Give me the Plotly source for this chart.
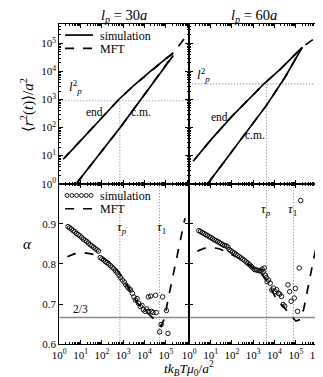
import numpy as np
import plotly.graph_objects as go
from plotly.subplots import make_subplots

# ---- top panels: mean square displacement (log10 t, log10 <r^2>/a^2) ----
end30_logt = [0.25, 1.0, 2.0, 2.79, 3.5, 4.3, 5.0, 5.35]
end30_logr = [0.92, 1.55, 2.35, 3.0, 3.5, 4.02, 4.45, 4.67]
cm30_logt = [0.83, 2.0, 2.86, 4.0, 5.35]
cm30_logr = [0.03, 1.16, 2.0, 3.18, 4.57]
mft_end30_logt = [0.18, 1.0, 2.0, 2.79, 3.5, 4.3, 5.0, 5.35, 5.7, 6.1]
mft_end30_logr = [0.87, 1.55, 2.35, 3.0, 3.5, 4.02, 4.45, 4.65, 5.0, 5.41]
mft_cm30_logt = [0.83, 2.0, 2.86, 4.0, 5.35]
mft_cm30_logr = [0.03, 1.16, 2.0, 3.18, 4.6]

end60_logt = [0.25, 1.0, 2.0, 3.0, 3.52, 4.3, 5.3]
end60_logr = [0.86, 1.55, 2.4, 3.17, 3.57, 4.1, 4.86]
cm60_logt = [0.9, 2.0, 3.0, 3.62, 4.5, 5.3]
cm60_logr = [0.03, 1.13, 2.15, 2.79, 3.8, 4.86]
mft_end60_logt = [0.18, 1.0, 2.0, 3.0, 3.52, 4.3, 5.3, 5.7, 6.1]
mft_end60_logr = [0.8, 1.55, 2.4, 3.17, 3.57, 4.1, 4.86, 5.08, 5.29]
mft_cm60_logt = [0.9, 2.0, 3.0, 3.62, 4.5, 5.3]
mft_cm60_logr = [0.03, 1.13, 2.15, 2.79, 3.8, 4.86]

lp2 = {30: 900, 60: 3600}
tau_p_log = {30: 2.84, 60: 3.62}
tau_1_log = {30: 4.70, 60: 4.89}

# ---- bottom panels: local exponent alpha ----
alpha30_logt = [0.41, 0.49, 0.57, 0.65, 0.73, 0.81, 0.89, 0.97, 1.05, 1.13, 1.21, 1.29, 1.37,
                1.45, 1.53, 1.61, 1.69, 1.77, 1.84,
                1.92, 2.0, 2.08, 2.16, 2.24, 2.32, 2.40, 2.48, 2.56, 2.64, 2.72, 2.80, 2.88,
                2.96, 3.05, 3.12, 3.20, 3.28, 3.35, 3.43, 3.50, 3.57, 3.65, 3.72, 3.80, 3.88,
                3.95, 4.03, 4.10, 4.18, 4.33, 4.40, 4.55,
                4.18, 4.29, 4.52, 4.85, 4.78, 4.71, 5.10, 5.03]
alpha30 = [0.893, 0.890, 0.887, 0.883, 0.880, 0.876, 0.873, 0.870, 0.866, 0.862, 0.859, 0.856,
           0.852, 0.848, 0.845, 0.842, 0.838, 0.835, 0.832,
           0.816, 0.813, 0.810, 0.806, 0.803, 0.800, 0.796, 0.792, 0.788, 0.783, 0.778, 0.772,
           0.766, 0.760, 0.755, 0.748, 0.743, 0.738, 0.735, 0.727, 0.718, 0.710, 0.714, 0.702,
           0.694, 0.697, 0.686, 0.682, 0.688, 0.682, 0.682, 0.679, 0.679,
           0.718, 0.720, 0.722, 0.718, 0.649, 0.631, 0.627, 0.684]
mft_alpha30_logt = [0.38, 0.7, 1.0, 1.16, 1.5, 1.84, 2.2, 2.44, 2.8, 3.1, 3.4, 3.62, 4.0, 4.3,
                    4.6, 4.78, 4.9, 5.0, 5.16, 5.38, 5.53, 5.7, 5.9]
mft_alpha30 = [0.818, 0.825, 0.828, 0.828, 0.825, 0.820, 0.810, 0.800, 0.780, 0.755, 0.727,
               0.705, 0.685, 0.668, 0.652, 0.645, 0.660, 0.682, 0.726, 0.783, 0.824, 0.870, 0.914]

alpha60_logt = [0.45, 0.53, 0.61, 0.69, 0.77, 0.85, 0.93, 1.01, 1.09, 1.17, 1.25, 1.33, 1.41,
                1.49, 1.57, 1.65, 1.73, 1.81,
                1.87, 1.95, 2.03, 2.11, 2.19, 2.27, 2.35, 2.43, 2.51, 2.59, 2.67, 2.75, 2.83,
                2.91, 2.99, 3.07, 3.15, 3.22, 3.30, 3.37, 3.42, 3.47, 3.52, 3.57, 3.61, 3.65,
                3.72, 3.80, 3.87, 3.95, 4.03, 4.10, 4.18, 4.25, 4.33, 4.40, 4.48,
                4.63, 4.71, 4.78, 4.93, 4.98, 5.08, 5.16, 5.23]
alpha60 = [0.883, 0.881, 0.878, 0.876, 0.873, 0.871, 0.868, 0.866, 0.863, 0.860, 0.858, 0.856,
           0.853, 0.851, 0.848, 0.846, 0.845, 0.842,
           0.836, 0.833, 0.830, 0.827, 0.824, 0.821, 0.818, 0.815, 0.812, 0.809, 0.805, 0.802,
           0.798, 0.794, 0.790, 0.786, 0.785, 0.784, 0.783, 0.782, 0.787, 0.780, 0.790, 0.772,
           0.766, 0.756, 0.760, 0.752, 0.735, 0.740, 0.731, 0.736, 0.727, 0.725, 0.719, 0.699,
           0.695,
           0.748, 0.731, 0.707, 0.715, 0.739, 0.682, 0.790, 0.958]
mft_alpha60_logt = [0.38, 0.7, 1.05, 1.4, 1.66, 1.96, 2.5, 3.0, 3.3, 3.57, 3.88, 4.1, 4.4,
                    4.71, 4.86, 5.0, 5.23, 5.38, 5.61, 5.84, 5.99]
mft_alpha60 = [0.832, 0.839, 0.841, 0.838, 0.832, 0.824, 0.810, 0.790, 0.780, 0.763, 0.734,
               0.712, 0.695, 0.674, 0.666, 0.658, 0.662, 0.690, 0.756, 0.813, 0.849]

two_thirds = 2 / 3

FONT = "Liberation Serif, DejaVu Serif, serif"
X_RANGE = [0, 6.1]


def p10(a):
    return [10 ** v for v in a]


fig = make_subplots(rows=2, cols=2, horizontal_spacing=0, vertical_spacing=0)

panels = {
    30: dict(col=1, end=(end30_logt, end30_logr), cm=(cm30_logt, cm30_logr),
             mft_end=(mft_end30_logt, mft_end30_logr), mft_cm=(mft_cm30_logt, mft_cm30_logr),
             a=(alpha30_logt, alpha30), mft_a=(mft_alpha30_logt, mft_alpha30)),
    60: dict(col=2, end=(end60_logt, end60_logr), cm=(cm60_logt, cm60_logr),
             mft_end=(mft_end60_logt, mft_end60_logr), mft_cm=(mft_cm60_logt, mft_cm60_logr),
             a=(alpha60_logt, alpha60), mft_a=(mft_alpha60_logt, mft_alpha60)),
}

dot = dict(color="#8a8a8a", width=1.1, dash="1px,2px")
dash = dict(color="black", width=1.7, dash="dash")
for lp, p in panels.items():
    c = p["col"]
    # guide lines
    fig.add_trace(go.Scatter(x=[1, 10 ** X_RANGE[1]], y=[lp2[lp]] * 2, mode="lines", line=dot,
                             hoverinfo="skip"), row=1, col=c)
    fig.add_trace(go.Scatter(x=[10 ** tau_p_log[lp]] * 2, y=[1, lp2[lp]], mode="lines", line=dot,
                             hoverinfo="skip"), row=1, col=c)
    for tl in (tau_p_log[lp], tau_1_log[lp]):
        fig.add_trace(go.Scatter(x=[10 ** tl] * 2, y=[0.6, 1.0], mode="lines", line=dot,
                                 hoverinfo="skip"), row=2, col=c)
    fig.add_trace(go.Scatter(x=[1, 10 ** X_RANGE[1]], y=[two_thirds] * 2, mode="lines",
                             line=dict(color="#8c8c8c", width=1.6), hoverinfo="skip"),
                  row=2, col=c)

    # MFT dashed, then simulation on top
    for key in ("mft_end", "mft_cm"):
        lt, lr = p[key]
        fig.add_trace(go.Scatter(x=p10(lt), y=p10(lr), mode="lines", name="MFT", line=dash),
                      row=1, col=c)
    for key in ("end", "cm"):
        lt, lr = p[key]
        fig.add_trace(go.Scatter(x=p10(lt), y=p10(lr), mode="lines", name="simulation",
                                 line=dict(color="black", width=1.7)), row=1, col=c)

    lt, av = p["mft_a"]
    fig.add_trace(go.Scatter(x=p10(lt), y=av, mode="lines", name="MFT", line=dash), row=2, col=c)
    lt, av = p["a"]
    fig.add_trace(go.Scatter(x=p10(lt), y=av, mode="markers", name="simulation",
                             marker=dict(symbol="circle-open", size=4.5, color="black",
                                         line=dict(width=0.9, color="black"))),
                  row=2, col=c)

W, H = 323, 377
L, M, R = 46, 181, 316
T, MID, B = 16, 178.5, 341.7
xdom = {1: [L / W, M / W], 2: [M / W, R / W]}
ydom = {1: [1 - MID / H, 1 - T / H], 2: [1 - B / H, 1 - MID / H]}

tick_font = dict(family=FONT, size=11, color="black")
dec_vals = [10 ** k for k in range(0, 7)]
dec_text = [f"10<sup>{k}</sup>" for k in range(0, 7)]

for r in (1, 2):
    for c in (1, 2):
        n = (r - 1) * 2 + c
        xa = "xaxis" if n == 1 else f"xaxis{n}"
        ya = "yaxis" if n == 1 else f"yaxis{n}"
        if r == 2 and c == 1:
            xv, xt = dec_vals[:6], dec_text[:6]
        else:
            xv, xt = dec_vals, dec_text
        fig.layout[xa].update(
            type="log", range=X_RANGE, domain=xdom[c], anchor=ya.replace("axis", ""),
            tickvals=xv, ticktext=xt, showticklabels=(r == 2),
            ticks="inside", ticklen=4, tickcolor="black", mirror="allticks",
            showline=True, linecolor="black", linewidth=1.2, showgrid=False, zeroline=False,
            minor=dict(ticks="inside", ticklen=2, tickcolor="black", dtick="D1", showgrid=False),
            tickfont=tick_font,
        )
        if r == 1:
            fig.layout[ya].update(
                type="log", range=[0, 5.7], tickvals=dec_vals[:6], ticktext=dec_text[:6],
                minor=dict(ticks="inside", ticklen=2, tickcolor="black", dtick="D1",
                           showgrid=False))
        else:
            fig.layout[ya].update(range=[0.6, 1.0], tickvals=[0.6, 0.7, 0.8, 0.9],
                                  ticktext=["0.6", "0.7", "0.8", "0.9"])
        fig.layout[ya].update(
            domain=ydom[r], anchor=xa.replace("axis", ""), showticklabels=(c == 1),
            ticks="inside", ticklen=4, tickcolor="black", mirror="allticks",
            showline=True, linecolor="black", linewidth=1.2, showgrid=False, zeroline=False,
            tickfont=tick_font,
        )

ann = []
shapes = []


def label(text, x, y, xref="paper", yref="paper", size=12, xanchor="center", **kw):
    ann.append(dict(text=text, x=x, y=y, xref=xref, yref=yref, showarrow=False,
                    xanchor=xanchor, yanchor="middle",
                    font=dict(family=FONT, size=size, color="black"), **kw))


label("<i>l<sub>p</sub></i> = 30<i>a</i>", (L + M) / 2 / W, 1 - 8 / H, size=14.5)
label("<i>l<sub>p</sub></i> = 60<i>a</i>", (M + R) / 2 / W, 1 - 8 / H, size=14.5)
label("⟨<i>r</i><sup>2</sup>(<i>t</i>)⟩/<i>a</i><sup>2</sup>", 13 / W, 1 - 99 / H,
      textangle=-90, size=15)
label("<i>α</i>", 13 / W, 1 - 240 / H, size=15)
label("<i>tk<sub>B</sub>Tμ</i><sub>0</sub>/<i>a</i><sup>2</sup>", M / W, 1 - 366.5 / H, size=13.5)

# panel labels in data coordinates (log axes use exponents)
label("<i>l</i><sup>2</sup><sub><i>p</i></sub>", 0.75, 3.45, "x", "y", size=13)
label("end", 1.66, 2.57, "x", "y", size=11.5)
label("c.m.", 3.85, 2.57, "x", "y", size=11.5)
label("<i>l</i><sup>2</sup><sub><i>p</i></sub>", 0.68, 3.88, "x2", "y2", size=13)
label("end", 1.43, 2.39, "x2", "y2", size=11.5)
label("c.m.", 3.09, 1.73, "x2", "y2", size=11.5)
label("2/3", 1.01, 0.688, "x3", "y3", size=11.5)
label("<i>τ<sub>p</sub></i>", 2.93, 0.891, "x3", "y3", size=13)
label("<i>τ</i><sub>1</sub>", 4.8, 0.891, "x3", "y3", size=13)
label("<i>τ<sub>p</sub></i>", 3.6, 0.935, "x4", "y4", size=13)
label("<i>τ</i><sub>1</sub>", 4.86, 0.935, "x4", "y4", size=13)


# hand-drawn legends (paper coordinates)
def px(x):
    return x / W


def py(y):
    return 1 - y / H


legend_items = [
    ("line", 27.5, "simulation"),
    ("dash", 41.0, "MFT"),
    ("circles", 190.5, "simulation"),
    ("dash", 204.0, "MFT"),
]
for kind, yy, txt in legend_items:
    if kind == "circles":
        for i in range(6):
            cx = 54 + 5 * i
            shapes.append(dict(type="circle", xref="paper", yref="paper",
                               x0=px(cx - 2), x1=px(cx + 2), y0=py(yy + 2), y1=py(yy - 2),
                               line=dict(color="black", width=0.9)))
    else:
        shapes.append(dict(type="line", xref="paper", yref="paper",
                           x0=px(52), x1=px(81), y0=py(yy), y1=py(yy),
                           line=dict(color="black", width=1.7,
                                     dash="solid" if kind == "line" else "dash")))
    label(txt, px(86), py(yy + 0.5), size=12, xanchor="left")

fig.update_layout(
    width=W, height=H,
    margin=dict(l=0, r=0, t=0, b=0),
    paper_bgcolor="white", plot_bgcolor="white",
    font=dict(family=FONT, color="black"),
    showlegend=False,
    annotations=ann,
    shapes=shapes,
)

fig.write_html("out.html")
